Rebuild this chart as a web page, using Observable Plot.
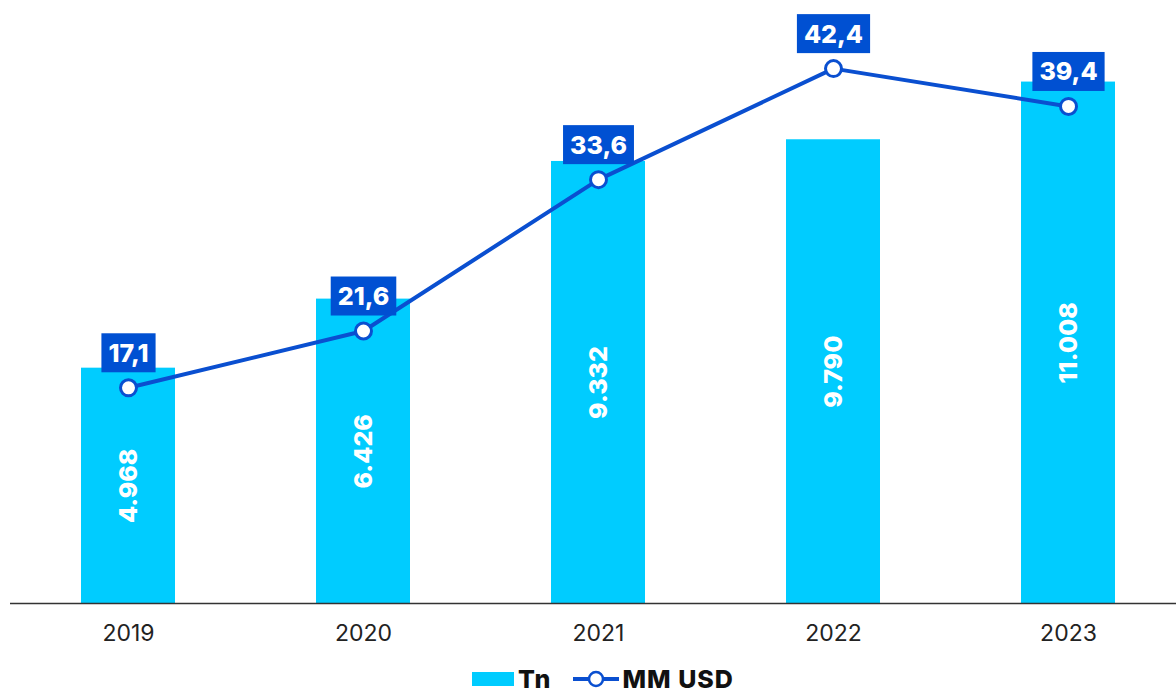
<!DOCTYPE html>
<html>
<head>
<meta charset="utf-8">
<script src="https://cdn.jsdelivr.net/npm/d3@7"></script>
<script src="https://cdn.jsdelivr.net/npm/@observablehq/plot@0.6"></script>
<style>
  html, body { margin: 0; padding: 0; background: #fff; }
  #wrap { position: relative; width: 1176px; height: 660px; }
  #wrap > svg { position: absolute; left: 0; top: 0; }
  #legend { display: flex; justify-content: center; align-items: center; height: 38px; padding-left: 30px;
            font-family: Inter, "Open Sans", sans-serif; font-weight: 800; font-size: 25px; letter-spacing: 1px; color: #111; }
  .item { display: flex; align-items: center; }
</style>
</head>
<body>
<div id="wrap"></div>
<div id="legend">
  <div class="item"><span style="display:inline-block;width:42px;height:14px;background:#00CCFF;margin-right:4px"></span>Tn</div>
  <div class="item" style="margin-left:20px">
    <svg width="48" height="20" style="margin-right:3px"><line x1="1" y1="10" x2="47" y2="10" stroke="#0A4FD0" stroke-width="4"/><circle cx="24" cy="10" r="7" fill="#fff" stroke="#0A4FD0" stroke-width="2.5"/></svg>MM USD</div>
</div>
<script>
const years = ["2019", "2020", "2021", "2022", "2023"];
const tn = [4968, 6426, 9332, 9790, 11008];
const mmUsd = [17.1, 21.6, 33.6, 42.4, 39.4];

const barColor = "#00CCFF";
const lineColor = "#0A4FD0";
const boxColor = "#0050D2";
const font = "Inter, 'Open Sans', sans-serif";

const data = years.map((y, i) => ({year: y, tn: tn[i], usd: mmUsd[i]}));
const fmtTn = d => d3.format(",")(d).replace(/,/g, ".");
const fmtUsd = d => d3.format(".1f")(d).replace(".", ",");

const common = {
  width: 1176, height: 660,
  marginTop: 0, marginBottom: 57, marginLeft: 10, marginRight: -10,
  x: {domain: years, paddingInner: 0.6, paddingOuter: 0.3, label: null},
  style: {fontFamily: font, background: "transparent", overflow: "hidden"}
};

const bars = Plot.plot({
  ...common,
  y: {domain: [0, 12730], axis: null},
  marks: [
    Plot.barY(data, {x: "year", y: "tn", fill: barColor}),
    Plot.text(data, {x: "year", y: d => d.tn / 2, text: d => fmtTn(d.tn), rotate: -90,
      fill: "white", fontSize: 25, fontWeight: 800, letterSpacing: 0.5}),
    Plot.ruleY([0], {stroke: "#333", strokeWidth: 1.5}),
    Plot.axisX({tickSize: 0, tickPadding: 21, fontSize: 23, fill: "#222", label: null})
  ]
});

const line = Plot.plot({
  ...common,
  x: {...common.x, axis: null},
  y: {domain: [0, 47.8], axis: null},
  marks: [
    Plot.line(data, {x: "year", y: "usd", stroke: lineColor, strokeWidth: 4}),
    Plot.dot(data, {x: "year", y: "usd", r: 8, fill: "white", stroke: lineColor, strokeWidth: 3}),
    Plot.text(data, {x: "year", y: "usd", dy: -34, text: d => fmtUsd(d.usd),
      fill: "white", fontSize: 25, fontWeight: 800, className: "vlabel"})
  ]
});

const wrap = document.getElementById("wrap");
wrap.appendChild(bars);
wrap.appendChild(line);

// draw label boxes behind value labels
line.querySelectorAll("g.vlabel text").forEach(t => {
  const b = t.getBBox();
  const padX = 7, h = 39;
  const cy = b.y + b.height / 2;
  const r = document.createElementNS("http://www.w3.org/2000/svg", "rect");
  r.setAttribute("x", b.x - padX);
  r.setAttribute("y", cy - h / 2);
  r.setAttribute("width", b.width + 2 * padX);
  r.setAttribute("height", h);
  r.setAttribute("fill", boxColor);
  const tr = t.getAttribute("transform");
  if (tr) r.setAttribute("transform", tr);
  t.parentNode.insertBefore(r, t);
});
</script>
</body>
</html>
